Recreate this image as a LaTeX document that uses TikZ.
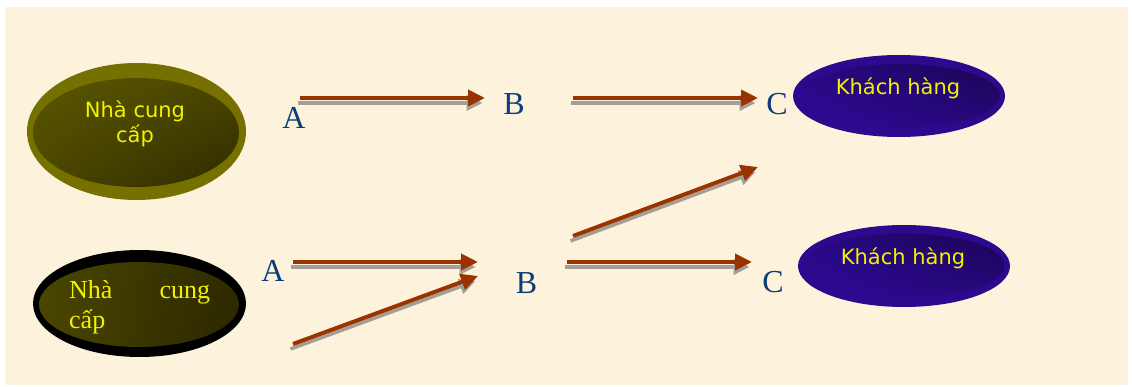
\documentclass[tikz,border=0pt]{standalone}
\usepackage{fontspec}
\setmainfont{Liberation Serif}
\newfontfamily\verd{DejaVu Sans}
\usetikzlibrary{arrows.meta,shapes.geometric,shadings}
\definecolor{bgcream}{HTML}{FDF3DD}
\definecolor{arrowred}{HTML}{993300}
\definecolor{shadowgray}{HTML}{A39E96}
\definecolor{labelblue}{HTML}{0E3C78}
\definecolor{olivering}{HTML}{767000}
\definecolor{oliveA}{HTML}{5A5600}
\definecolor{oliveB}{HTML}{2E2A00}
\definecolor{oliveC}{HTML}{4A4600}
\definecolor{oliveD}{HTML}{2A2600}
\definecolor{purpring}{HTML}{2C0A8E}
\definecolor{purpA}{HTML}{2E0A98}
\definecolor{purpB}{HTML}{1A0552}
\definecolor{txtyellow}{HTML}{F2F200}
\begin{document}
\begin{tikzpicture}[x=1pt,y=-1pt,
  flowarrow/.style={draw=arrowred, line width=4pt, -{Triangle[length=17pt,width=16pt]},
    preaction={draw=shadowgray, line width=3.5pt, -{Triangle[length=16pt,width=15pt]},
      transform canvas={xshift=-2.5pt,yshift=-5pt}}},
  letter/.style={font=\fontsize{32}{32}\selectfont, text=labelblue, anchor=base, inner sep=0pt},
  sanstxt/.style={font=\verd\fontsize{21}{25}\selectfont, text=txtyellow, align=center, inner sep=0pt},
  seriftxt/.style={font=\fontsize{26}{30}\selectfont, text=txtyellow, align=left, inner sep=0pt},
  ring/.style={ellipse, inner sep=0pt}
]
\useasboundingbox (0,0) rectangle (1132,387);
\fill[white] (0,0) rectangle (1132,387);
\fill[bgcream] (5,7) rectangle (1128,385);

% top-left supplier
\node[ring, fill=olivering, minimum width=219pt, minimum height=137pt] (sup1) at (136.5,131.5) {};
\shade[upper left=oliveA, lower right=oliveB, upper right=oliveC, lower left=oliveC]
  (136,132.5) ellipse [x radius=103, y radius=54.5];
\node[sanstxt] (sup1t) at (135,124) {Nhà cung\\cấp};

% bottom-left supplier
\node[ring, fill=black, minimum width=213pt, minimum height=107pt] (sup2) at (139.5,303.5) {};
\shade[upper left=oliveC, lower right=oliveD, upper right=oliveB, lower left=oliveC]
  (139,304.5) ellipse [x radius=100, y radius=42.5];
\node[seriftxt, anchor=base west] (sup2t) at (69,328) {\makebox[141pt][l]{Nhà\hfill cung}\\cấp};

% customers
\node[ring, fill=purpring, minimum width=212pt, minimum height=82pt] (cus1) at (899,96) {};
\shade[lower left=purpA, upper right=purpB, upper left=purpA!70!purpB, lower right=purpA!60!purpB]
  (900,96) ellipse [x radius=100, y radius=32];
\node[sanstxt] (cus1t) at (898,88) {Khách hàng};

\node[ring, fill=purpring, minimum width=212pt, minimum height=82pt] (cus2) at (904,266) {};
\shade[lower left=purpA, upper right=purpB, upper left=purpA!70!purpB, lower right=purpA!60!purpB]
  (904.5,265.5) ellipse [x radius=100, y radius=32];
\node[sanstxt] (cus2t) at (903,258) {Khách hàng};

% letters
\node[letter] (A1) at (294,129) {A};
\node[letter] (B1) at (514,115) {B};
\node[letter] (C1) at (777,115) {C};
\node[letter] (A2) at (273,282) {A};
\node[letter] (B2) at (526.5,294) {B};
\node[letter] (C2) at (773,293) {C};

% arrow end points
\coordinate (p1s) at (300,98);  \coordinate (p1e) at (485,98);
\coordinate (p2s) at (573,98);  \coordinate (p2e) at (758,98);
\coordinate (p3s) at (293,262); \coordinate (p3e) at (478,262);
\coordinate (p4s) at (293,344); \coordinate (p4e) at (478,276);
\coordinate (p5s) at (573,236); \coordinate (p5e) at (758,167);
\coordinate (p6s) at (567,262); \coordinate (p6e) at (752,262);

\draw[flowarrow] (p1s) -- (p1e);
\draw[flowarrow] (p2s) -- (p2e);
\draw[flowarrow] (p3s) -- (p3e);
\draw[flowarrow] (p4s) -- (p4e);
\draw[flowarrow] (p5s) -- (p5e);
\draw[flowarrow] (p6s) -- (p6e);
\end{tikzpicture}
\end{document}
